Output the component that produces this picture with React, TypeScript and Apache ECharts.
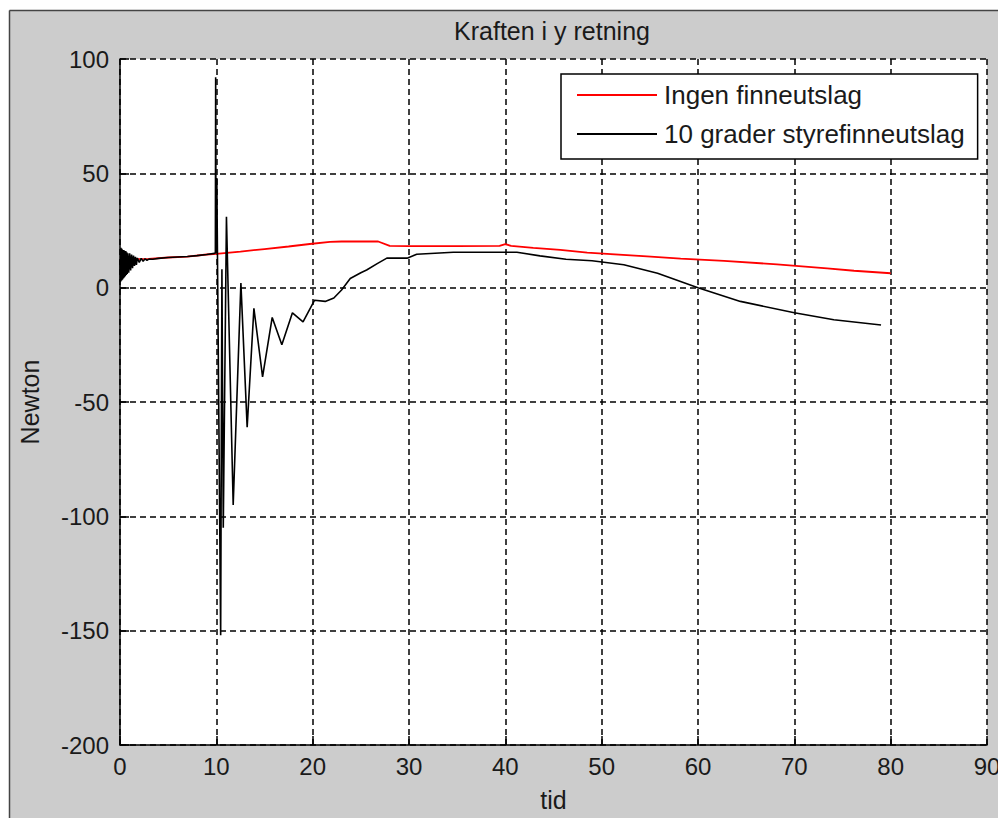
import React, { useEffect, useRef } from "react";
import * as echarts from "echarts";

const titleText = "Kraften i y retning";
const xName = "tid";
const yName = "Newton";
const seriesNames = ["Ingen finneutslag", "10 grader styrefinneutslag"];

// Red series: "Ingen finneutslag"
const redT = [0, 3, 5, 7, 9, 10, 12.5, 15, 17.5, 19.7, 21.8, 23, 26.8, 28, 30, 35, 39.4, 40, 40.6, 42.9, 45.7, 48.5, 54.7, 58.2, 62.7, 68.2, 73.4, 76.2, 80];
const redV = [12.5, 12.6, 13.2, 13.6, 14.5, 14.8, 15.8, 16.9, 18, 19.1, 20, 20.2, 20.2, 18.3, 18.2, 18.2, 18.3, 19, 18.3, 17.4, 16.5, 15.3, 13.7, 12.7, 11.7, 10.2, 8.4, 7.4, 6.3];

// Black series: "10 grader styrefinneutslag"
const blackT = [
  0, 0.05, 0.1, 0.15, 0.2, 0.25, 0.3, 0.35, 0.4, 0.45, 0.5, 0.55, 0.6, 0.65, 0.7, 0.75, 0.8, 0.9, 1.0, 1.1, 1.2, 1.3, 1.4, 1.5, 1.6, 1.7, 1.8, 2.0, 2.2, 2.4, 2.6, 2.8, 3.0,
  3.4, 4, 5, 6, 7, 8, 9, 9.8, 9.9,
  9.93, 9.97, 10.05, 10.45, 10.5, 10.58, 10.72, 11.05, 11.75, 12.55, 13.2, 13.9, 14.8, 15.8, 16.8, 17.9, 19.0,
  20.2, 21.3, 22.2, 23.0, 23.9, 25.0, 25.6, 26.7, 27.7, 29.8, 30.8, 34.6, 41.2, 43.6, 46.3, 49, 52.3, 55.8, 60, 64.4, 70, 74.1, 79
];
const blackV = [
  12, 2.5, 17.5, 3, 17, 3.5, 16.5, 4, 16.5, 4.5, 16, 5, 16, 5.5, 15.5, 6, 15, 6.5, 15, 7.5, 14.5, 8.5, 14, 9.5, 13.5, 10, 13, 11, 12.8, 11.5, 12.6, 12, 12.5,
  12.4, 12.8, 13.2, 13.4, 13.6, 14.0, 14.5, 15.0, 15.2,
  92, 15, 48, -152, -152, 8, -105, 31, -95, 2, -61, -9, -39, -13, -25, -11, -15,
  -5.5, -6, -4.5, -1, 4, 6.5, 7.7, 10.5, 12.9, 12.9, 14.6, 15.5, 15.5, 13.9, 12.4, 11.8, 10, 6.3, 0, -6, -11, -14, -16.3
];

const xMin = 0, xMax = 90, xStep = 10;
const yMin = -200, yMax = 100, yStep = 50;

const FONT = "'Liberation Sans', Arial, sans-serif";
const TXT = "#1a1a1a";

export default function App() {
  const ref = useRef<HTMLDivElement>(null);
  useEffect(() => {
    if (!ref.current) return;
    const chart = echarts.init(ref.current, undefined, { renderer: "svg" });
    const red = redT.map((t, i) => [t, redV[i]]);
    const black = blackT.map((t, i) => [t, blackV[i]]);
    const axisCommon = {
      axisLine: { show: true, onZero: false, lineStyle: { color: "#000", width: 1.5 } },
      axisTick: { show: true, inside: true, length: 9, lineStyle: { color: "#000", width: 1.5 } },
      splitLine: { show: true, lineStyle: { color: "#000", width: 1.5, type: [6, 4] } },
    };
    chart.setOption({
      animation: false,
      backgroundColor: "#cccccc",
      grid: {
        show: true,
        backgroundColor: "#ffffff",
        borderWidth: 0,
        left: 120,
        right: 11,
        top: 59,
        bottom: 73,
        containLabel: false,
        outerBoundsMode: "none",
      },
      xAxis: {
        type: "value",
        min: xMin,
        max: xMax,
        interval: xStep,
        name: xName,
        nameLocation: "middle",
        nameGap: 42,
        nameTextStyle: { fontSize: 25, fontFamily: FONT, color: TXT },
        axisLabel: { fontSize: 24, fontFamily: FONT, color: TXT, margin: 9, hideOverlap: false },
        ...axisCommon,
      },
      yAxis: {
        type: "value",
        min: yMin,
        max: yMax,
        interval: yStep,
        name: yName,
        nameLocation: "middle",
        nameGap: 78,
        nameRotate: 90,
        nameTextStyle: { fontSize: 25, fontFamily: FONT, color: TXT },
        axisLabel: { fontSize: 24, fontFamily: FONT, color: TXT, margin: 11 },
        ...axisCommon,
      },
      legend: {
        show: true,
        orient: "vertical",
        left: 561,
        top: 74,
        backgroundColor: "#fff",
        borderColor: "#000",
        borderWidth: 1.5,
        borderRadius: 0,
        padding: [8, 13, 12, 16],
        itemGap: 13,
        itemWidth: 80,
        itemHeight: 2,
        icon: "rect",
        textStyle: { fontSize: 26, fontFamily: FONT, color: TXT, padding: [0, 0, 0, 2] },
        data: seriesNames,
      },
      graphic: [
        { type: "rect", shape: { x: 0, y: 0, width: 998, height: 10 }, style: { fill: "#fff" }, z: 100 },
        { type: "rect", shape: { x: 0, y: 0, width: 9, height: 818 }, style: { fill: "#fff" }, z: 100 },
        { type: "line", shape: { x1: 9.5, y1: 10.5, x2: 998, y2: 10.5 }, style: { stroke: "#444", lineWidth: 1.5 }, z: 101 },
        { type: "line", shape: { x1: 9.5, y1: 10.5, x2: 9.5, y2: 818 }, style: { stroke: "#444", lineWidth: 1.5 }, z: 101 },
        {
          type: "text",
          x: 552,
          y: 31,
          style: { text: titleText, fontSize: 25, fontFamily: FONT, fill: TXT, align: "center", verticalAlign: "middle" },
          z: 101,
        },
      ],
      series: [
        {
          name: seriesNames[0],
          type: "line",
          data: red,
          showSymbol: false,
          symbol: "none",
          lineStyle: { color: "#ff0000", width: 1.8 },
          itemStyle: { color: "#ff0000" },
          z: 2,
        },
        {
          name: seriesNames[1],
          type: "line",
          data: black,
          showSymbol: false,
          symbol: "none",
          lineStyle: { color: "#000", width: 1.6 },
          itemStyle: { color: "#000" },
          z: 3,
        },
      ],
    });
    return () => chart.dispose();
  }, []);
  return (
    <div
      ref={ref}
      style={{ position: "absolute", left: 0, top: 0, width: 998, height: 818 }}
    />
  );
}
